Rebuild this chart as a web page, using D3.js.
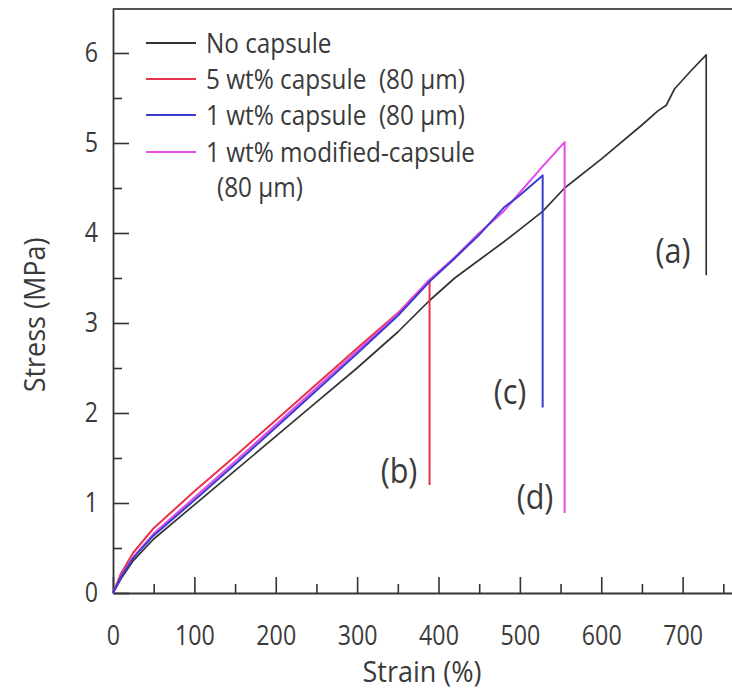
<!DOCTYPE html>
<meta charset="utf-8">
<style>
  body { margin: 0; background: #fff; }
  text { font-family: "Open Sans", sans-serif; fill: #3a3a3a; }
</style>
<body>
<script src="https://d3js.org/d3.v7.min.js"></script>
<script>

// stress-strain curves
const strainA = [0, 10, 25, 50, 100, 150, 200, 250, 300, 350, 389, 420, 450, 480, 500, 528, 555, 600, 650, 670, 680, 690, 710, 729, 729];
const stressA = [0, 0.16, 0.36, 0.6, 0.98, 1.36, 1.74, 2.12, 2.5, 2.9, 3.25, 3.5, 3.7, 3.9, 4.04, 4.24, 4.5, 4.82, 5.2, 5.36, 5.42, 5.6, 5.8, 5.98, 3.53];

const strainB = [0, 10, 25, 50, 100, 150, 200, 250, 300, 350, 389, 389];
const stressB = [0, 0.22, 0.45, 0.72, 1.13, 1.52, 1.92, 2.32, 2.72, 3.11, 3.48, 1.2];

const strainC = [0, 10, 25, 50, 100, 150, 200, 250, 300, 350, 389, 420, 450, 480, 500, 528, 528];
const stressC = [0, 0.18, 0.39, 0.64, 1.03, 1.43, 1.84, 2.25, 2.66, 3.08, 3.46, 3.72, 3.98, 4.28, 4.42, 4.64, 2.06];

const strainD = [0, 10, 25, 50, 100, 150, 200, 250, 300, 350, 389, 420, 450, 480, 500, 528, 555, 555];
const stressD = [0, 0.19, 0.4, 0.66, 1.06, 1.46, 1.87, 2.28, 2.69, 3.1, 3.48, 3.73, 4.0, 4.24, 4.45, 4.74, 5.01, 0.89];

const seriesNames = ["No capsule", "5 wt% capsule  (80 \u00b5m)", "1 wt% capsule  (80 \u00b5m)", "1 wt% modified-capsule"];
const seriesColors = ["#333333", "#e8334a", "#3b3bd0", "#e44be8"];
const curveLabels = ["(a)", "(b)", "(c)", "(d)"];

const xMajor = [0, 100, 200, 300, 400, 500, 600, 700];
const xMinor = [50, 150, 250, 350, 450, 550, 650, 750];
const yMajor = [0, 1, 2, 3, 4, 5, 6];
const yMinor = [0.5, 1.5, 2.5, 3.5, 4.5, 5.5];

const W = 732, H = 693;
const svg = d3.select("body").append("svg")
    .attr("width", W)
    .attr("height", H);

const x = d3.scaleLinear().domain([0, 800]).range([113, 764]);
const y = d3.scaleLinear().domain([0, 6.5]).range([593, 8]);

// the original lettering is tall and narrow, so squeeze it a bit
function putText(px, py, str, size, sx, anchor, rot) {
  return svg.append("text")
      .attr("transform", "translate(" + px + "," + py + ")" + (rot ? " rotate(" + rot + ")" : "") + " scale(" + sx + ",1)")
      .attr("text-anchor", anchor || "start")
      .style("font-size", size + "px")
      .style("white-space", "pre")
      .text(str);
}

// minor ticks first, then major axes with labels
svg.append("g")
    .attr("transform", "translate(0,593)")
    .call(d3.axisBottom(x).tickValues(xMinor).tickSize(-9).tickFormat(""))
    .call(g => g.select(".domain").remove());
svg.append("g")
    .attr("transform", "translate(113,0)")
    .call(d3.axisLeft(y).tickValues(yMinor).tickSize(-9).tickFormat(""))
    .call(g => g.select(".domain").remove());

const xAxis = svg.append("g")
    .attr("transform", "translate(0,593)")
    .call(d3.axisBottom(x).tickValues(xMajor).tickSize(-16).tickPadding(33).tickSizeOuter(0));
const yAxis = svg.append("g")
    .attr("transform", "translate(113,0)")
    .call(d3.axisLeft(y).tickValues(yMajor).tickFormat(d3.format("d")).tickSize(-16).tickPadding(15).tickSizeOuter(0));

[xAxis, yAxis].forEach(g => {
  g.select(".domain").attr("stroke", "#333").attr("stroke-width", 1.8);
  g.selectAll("text")
      .style("font-size", "27px")
      .attr("fill", "#3a3a3a")
      .attr("transform", "scale(0.86,1)");
});
yAxis.selectAll("text").attr("x", -15 / 0.86);
svg.selectAll(".tick line").attr("stroke", "#333").attr("stroke-width", 1.6);

// top frame line
svg.append("line")
    .attr("x1", 113).attr("x2", W)
    .attr("y1", y(6.5) + 1).attr("y2", y(6.5) + 1)
    .attr("stroke", "#555").attr("stroke-width", 2);

// axis titles
putText(422, 682, "Strain (%)", 30, 0.9, "middle");
putText(45, 315, "Stress (MPa)", 30, 0.9, "middle", -90);

// curves
const line = d3.line().x(d => x(d[0])).y(d => y(d[1]));
const curves = [
  d3.zip(strainA, stressA),
  d3.zip(strainB, stressB),
  d3.zip(strainD, stressD),
  d3.zip(strainC, stressC)
];
const curveColors = [seriesColors[0], seriesColors[1], seriesColors[3], seriesColors[2]];
curves.forEach((pts, i) => {
  svg.append("path")
      .datum(pts)
      .attr("fill", "none")
      .attr("stroke", curveColors[i])
      .attr("stroke-width", i === 0 ? 1.7 : 2)
      .attr("stroke-linejoin", "round")
      .attr("d", line);
});

// legend
const legendY = [43, 79, 115, 152];
seriesNames.forEach((name, i) => {
  svg.append("line")
      .attr("x1", 146).attr("x2", 196)
      .attr("y1", legendY[i]).attr("y2", legendY[i])
      .attr("stroke", seriesColors[i])
      .attr("stroke-width", 2);
  putText(206, legendY[i] + 10, name, 27, 0.9);
});
putText(217, 197, "(80 \u00b5m)", 27, 0.9);

// curve labels
const labelPos = [[673, 263], [399, 483], [510, 404], [535, 509]];
curveLabels.forEach((t, i) => {
  putText(labelPos[i][0], labelPos[i][1], t, 34, 0.9, "middle");
});

</script>
</body>
